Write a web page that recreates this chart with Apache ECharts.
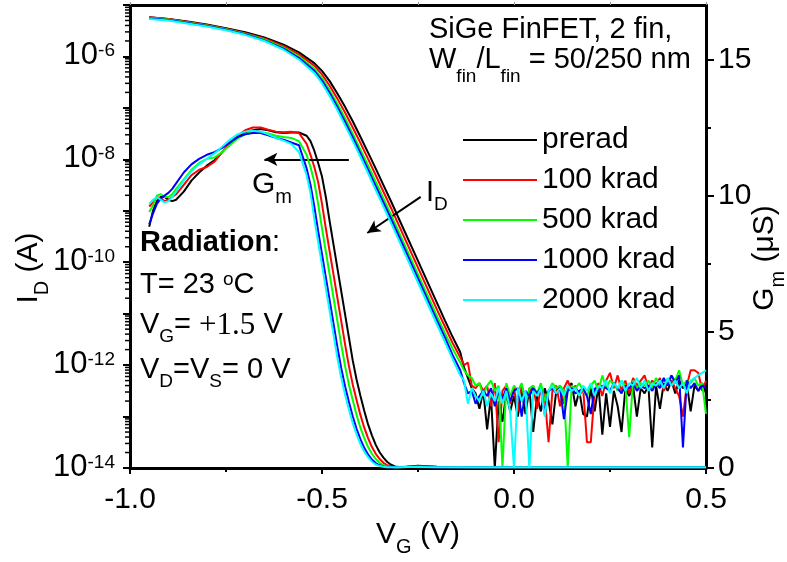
<!DOCTYPE html>
<html><head><meta charset="utf-8">
<script src="https://cdn.jsdelivr.net/npm/echarts@6/dist/echarts.min.js"></script>
<style>html,body{margin:0;padding:0;background:#fff}#c{width:787px;height:562px}</style>
</head><body><div id="c"></div>
<script>
// ---------------- data ----------------
const seriesNames = ['prerad', '100 krad', '500 krad', '1000 krad', '2000 krad'];
const seriesColors = ['#000000', '#ff0000', '#00ff00', '#0000ff', '#00ffff'];

// Gate voltage grid for I_D (V)
const vId = [-0.95,-0.90,-0.85,-0.80,-0.75,-0.70,-0.65,-0.60,-0.56,-0.52,-0.50,-0.48,-0.46,-0.44,-0.42,-0.40,-0.38,-0.36,-0.34,-0.32,-0.30,-0.28,-0.26,-0.24,-0.22,-0.20,-0.18,-0.16,-0.14,
  -0.13,-0.12,-0.11,-0.10,-0.09,-0.08,-0.07,-0.06,-0.05,-0.04,-0.03,-0.02,-0.01,0.00,0.01,0.02,0.03,0.04,0.05,0.06,0.07,0.08,0.09,0.10,
  0.11,0.12,0.13,0.14,0.15,0.16,0.17,0.18,0.19,0.20,0.21,0.22,0.23,0.24,0.25,0.26,0.27,0.28,0.29,0.30,
  0.31,0.32,0.33,0.34,0.35,0.36,0.37,0.38,0.39,0.40,0.41,0.42,0.43,0.44,0.45,0.46,0.47,0.48,0.49,0.50];

// log10(I_D / A) for each dose
const idLogPrerad = [-5.24,-5.27,-5.32,-5.38,-5.45,-5.53,-5.63,-5.77,-5.92,-6.13,-6.28,-6.48,-6.72,-6.98,-7.26,-7.56,-7.87,-8.18,-8.50,-8.82,-9.15,-9.48,-9.81,-10.14,-10.47,-10.80,-11.13,-11.45,-11.75,
  -12.05,-12.25,-12.45,-12.55,-12.85,-12.5,-13.25,-12.6,-14.0,-12.7,-13.1,-12.55,-12.9,-12.6,-13.0,-12.5,-12.95,-12.45,-13.3,-12.6,-12.9,-12.45,-12.7,-13.15,
  -12.5,-12.4,-12.75,-12.45,-12.35,-12.8,-12.5,-12.95,-13.0,-12.45,-12.9,-12.4,-13.35,-12.55,-13.2,-12.5,-12.8,-13.3,-12.45,-12.6,
  -12.4,-13.0,-12.45,-12.55,-12.4,-13.6,-12.4,-12.85,-12.35,-12.5,-12.3,-12.55,-12.3,-12.45,-12.35,-12.9,-12.4,-12.5,-12.35,-12.55];
const idLog100 = [-5.24,-5.27,-5.33,-5.39,-5.46,-5.55,-5.65,-5.80,-5.96,-6.18,-6.35,-6.57,-6.82,-7.09,-7.38,-7.68,-7.99,-8.31,-8.63,-8.95,-9.28,-9.61,-9.94,-10.27,-10.60,-10.93,-11.25,-11.57,-11.85,
  -12.0,-11.95,-12.4,-12.45,-12.35,-12.5,-12.4,-12.8,-12.35,-13.5,-12.5,-12.4,-12.75,-12.45,-12.9,-12.4,-12.7,-12.55,-12.4,-12.85,-12.45,-12.6,-13.5,-12.5,
  -12.4,-12.8,-12.45,-12.3,-12.5,-12.4,-12.6,-12.45,-13.5,-13.5,-12.5,-12.35,-12.6,-12.3,-12.15,-12.45,-12.2,-12.5,-12.3,-12.55,
  -12.25,-12.4,-12.3,-12.2,-12.45,-12.3,-12.4,-12.25,-12.5,-12.35,-12.3,-12.45,-12.6,-13.0,-12.4,-12.1,-12.1,-12.15,-12.5,-12.3];
const idLog500 = [-5.25,-5.28,-5.34,-5.40,-5.47,-5.56,-5.67,-5.83,-6.00,-6.24,-6.42,-6.66,-6.92,-7.20,-7.50,-7.81,-8.12,-8.44,-8.76,-9.08,-9.41,-9.74,-10.07,-10.40,-10.73,-11.06,-11.38,-11.68,-11.95,
  -12.1,-12.2,-12.25,-12.4,-12.35,-12.6,-12.4,-12.3,-12.5,-12.4,-14.0,-12.35,-12.6,-12.4,-12.5,-12.35,-12.75,-12.45,-12.4,-12.55,-12.35,-12.7,-12.5,-12.35,
  -12.45,-12.4,-12.5,-14.0,-12.4,-12.45,-12.35,-12.5,-12.6,-12.4,-12.3,-12.5,-12.2,-12.45,-12.3,-12.35,-12.5,-12.3,-12.4,-13.4,
  -12.3,-12.45,-12.35,-12.4,-12.3,-12.45,-12.25,-12.4,-12.3,-12.35,-12.2,-12.3,-12.1,-12.4,-12.3,-12.35,-12.25,-12.4,-12.35,-12.95];
const idLog1000 = [-5.26,-5.29,-5.35,-5.41,-5.48,-5.57,-5.69,-5.85,-6.03,-6.28,-6.47,-6.71,-6.98,-7.27,-7.57,-7.88,-8.20,-8.52,-8.84,-9.16,-9.49,-9.82,-10.15,-10.48,-10.81,-11.14,-11.46,-11.80,-12.10,
  -12.35,-12.55,-12.5,-12.75,-12.6,-12.5,-12.6,-12.45,-12.8,-12.5,-12.65,-12.45,-12.7,-12.5,-12.45,-13.0,-12.5,-12.6,-12.45,-12.55,-12.45,-12.95,-12.5,-12.45,
  -12.55,-12.45,-13.05,-12.5,-12.45,-12.55,-12.5,-12.45,-12.6,-12.95,-12.45,-12.5,-12.4,-12.45,-12.5,-12.35,-12.45,-12.55,-12.4,-12.45,
  -12.35,-12.5,-12.4,-12.45,-12.4,-12.5,-12.35,-12.45,-12.25,-12.4,-12.2,-12.35,-12.2,-13.6,-12.3,-12.45,-12.35,-12.5,-12.4,-12.45];
const idLog2000 = [-5.27,-5.30,-5.36,-5.42,-5.49,-5.58,-5.70,-5.87,-6.06,-6.32,-6.52,-6.77,-7.04,-7.34,-7.64,-7.95,-8.27,-8.60,-8.92,-9.24,-9.57,-9.90,-10.23,-10.56,-10.89,-11.22,-11.55,-11.88,-12.2,
  -12.3,-12.75,-12.45,-12.6,-12.7,-12.5,-12.8,-12.55,-12.7,-12.45,-12.75,-12.5,-12.9,-14.0,-12.45,-12.7,-12.5,-14.0,-12.5,-12.6,-12.45,-13.0,-12.5,-12.4,
  -12.55,-12.45,-12.6,-12.4,-12.5,-12.45,-12.6,-12.4,-12.5,-12.35,-12.6,-12.4,-12.45,-12.3,-12.55,-12.35,-12.45,-12.3,-12.5,-12.35,
  -12.4,-12.25,-12.45,-12.3,-12.5,-12.35,-12.4,-12.3,-12.45,-12.25,-12.4,-12.3,-12.45,-12.35,-12.55,-12.3,-12.25,-12.2,-12.15,-12.1];

// Gate voltage grid for G_m (V)
const vGm = [-0.95,-0.94,-0.93,-0.92,-0.91,-0.90,-0.89,-0.88,
  -0.86,-0.84,-0.82,-0.80,-0.78,-0.76,-0.74,-0.72,-0.70,-0.68,-0.66,-0.64,-0.62,-0.60,-0.58,-0.56,-0.54,
  -0.53,-0.52,-0.51,-0.50,-0.49,-0.48,-0.47,-0.46,-0.45,-0.44,-0.43,-0.42,-0.41,-0.40,-0.39,-0.38,-0.37,-0.36,-0.35,-0.34,-0.33,-0.32,-0.31,-0.30,
  -0.28,-0.25,-0.20,-0.10,0.00,0.10,0.20,0.30,0.40,0.50];

// G_m (uS) for each dose
const gmPrerad = [8.86,9.45,9.8,9.95,9.95,9.85,9.8,9.85,
  10.15,10.55,10.85,11.1,11.3,11.6,11.9,12.15,12.3,12.4,12.45,12.4,12.33,12.3,12.32,12.32,12.2,
  12.0,11.65,11.2,10.7,9.95,9.05,8.2,7.35,6.5,5.65,4.8,3.95,3.25,2.65,2.1,1.6,1.2,0.85,0.58,0.38,0.22,0.12,0.06,0.04,
  0.05,0.08,0.05,0.03,0.03,0.03,0.03,0.03,0.03,0.03];
const gm100 = [9.6,9.75,9.95,9.9,9.8,9.85,9.95,10.05,
  10.4,10.75,10.95,11.05,11.25,11.6,11.95,12.2,12.4,12.5,12.5,12.42,12.35,12.33,12.35,12.3,11.9,
  11.5,11.05,10.5,9.7,8.8,7.95,7.1,6.25,5.4,4.55,3.75,3.07,2.5,1.95,1.48,1.1,0.77,0.52,0.33,0.19,0.1,0.06,0.04,0.04,
  0.05,0.06,0.04,0.03,0.03,0.03,0.03,0.03,0.03,0.03];
const gm500 = [9.4,9.65,10.0,10.05,9.95,9.95,10.05,10.25,
  10.6,10.95,11.2,11.35,11.4,11.6,11.85,12.1,12.25,12.33,12.33,12.28,12.2,12.15,12.12,12.0,11.5,
  11.05,10.5,9.7,8.8,7.95,7.1,6.25,5.4,4.55,3.75,3.07,2.5,1.95,1.48,1.1,0.77,0.52,0.33,0.19,0.1,0.06,0.04,0.03,0.03,
  0.04,0.05,0.04,0.03,0.03,0.03,0.03,0.03,0.03,0.03];
const gm1000 = [8.95,9.35,9.7,9.9,10.0,10.1,10.25,10.45,
  10.85,11.15,11.35,11.5,11.6,11.75,11.95,12.15,12.25,12.3,12.3,12.22,12.12,12.05,11.95,11.85,11.0,
  10.4,9.6,8.7,7.85,7.0,6.15,5.3,4.45,3.67,3.0,2.43,1.9,1.44,1.06,0.74,0.5,0.31,0.18,0.1,0.06,0.04,0.03,0.03,0.03,
  0.04,0.04,0.03,0.03,0.03,0.03,0.03,0.03,0.03,0.03];
const gm2000 = [9.7,9.85,9.95,9.85,9.75,9.8,9.95,10.15,
  10.55,10.9,11.15,11.35,11.55,11.8,12.05,12.25,12.35,12.38,12.35,12.25,12.12,12.02,11.9,11.6,10.75,
  10.1,9.15,8.3,7.45,6.6,5.75,4.9,4.05,3.32,2.7,2.15,1.65,1.24,0.88,0.6,0.4,0.23,0.13,0.07,0.05,0.03,0.03,0.03,0.03,
  0.04,0.04,0.03,0.03,0.03,0.03,0.03,0.03,0.03,0.03];

// axis tick values
const gmMajorTicks = [0, 5, 10, 15];
const gmMinorTicks = [2.5, 7.5, 12.5];
const idDecadeExps = [-14,-13,-12,-11,-10,-9,-8,-7,-6,-5];

// annotation arrows [from, to] in data coordinates (V, A)
const gmArrow = [[-0.43, 1e-8], [-0.65, 1e-8]];
const idArrow = [[-0.243, 1.86e-9], [-0.382, 3.7e-10]];

// ---------------- chart ----------------
const F = '"Liberation Sans", Arial, sans-serif';
const FS = '"Liberation Serif", "Times New Roman", serif';
const idLogs = [idLogPrerad, idLog100, idLog500, idLog1000, idLog2000];
const gms = [gmPrerad, gm100, gm500, gm1000, gm2000];

const rich = {
  n: {fontFamily: F, fontSize: 29, lineHeight: 29, verticalAlign: 'top', color: '#000'},
  n30: {fontFamily: F, fontSize: 30, lineHeight: 30, verticalAlign: 'top', color: '#000'},
  b: {fontFamily: F, fontSize: 29, lineHeight: 29, verticalAlign: 'top', fontWeight: 'bold', color: '#000'},
  sub: {fontFamily: F, fontSize: 19, lineHeight: 19, verticalAlign: 'top', padding: [17, 0, 0, 0], color: '#000'},
  sub30: {fontFamily: F, fontSize: 20, lineHeight: 20, verticalAlign: 'top', padding: [18, 0, 0, 0], color: '#000'},
  subfin: {fontFamily: F, fontSize: 19, lineHeight: 19, verticalAlign: 'top', padding: [22, 0, 0, 0], color: '#000'},
  sup: {fontFamily: F, fontSize: 19, lineHeight: 19, verticalAlign: 'top', color: '#000'},
  serif: {fontFamily: FS, fontSize: 31, lineHeight: 29, verticalAlign: 'top', color: '#000'}
};

const minorLogTicks = [];
idDecadeExps.slice(0, -1).forEach(e => { for (let k = 2; k <= 9; k++) minorLogTicks.push([-1.0, k * Math.pow(10, e)]); });

const series = [];
seriesNames.forEach((name, i) => {
  const s = {
    name, type: 'line', xAxisIndex: 0, yAxisIndex: 0, symbol: 'none', showSymbol: false,
    lineStyle: {color: seriesColors[i], width: 2}, itemStyle: {color: seriesColors[i]},
    data: vId.map((v, j) => [v, Math.pow(10, idLogs[i][j])]), z: 3 + i
  };
  if (i === 0) {
    s.markLine = {
      silent: true, symbol: ['none', 'arrow'], symbolSize: [10, 13], animation: false,
      lineStyle: {color: '#000', width: 2, type: 'solid'}, label: {show: false},
      emphasis: {disabled: true},
      data: [
        [{coord: gmArrow[0]}, {coord: gmArrow[1]}],
        [{coord: idArrow[0]}, {coord: idArrow[1]}]
      ]
    };
  }
  series.push(s);
});
seriesNames.forEach((name, i) => {
  series.push({
    name, type: 'line', xAxisIndex: 0, yAxisIndex: 1, symbol: 'none', showSymbol: false,
    lineStyle: {color: seriesColors[i], width: 2}, itemStyle: {color: seriesColors[i]},
    data: vGm.map((v, j) => [v, gms[i][j]]), z: 3 + i
  });
});
series.push({
  type: 'custom', name: 'minorLogTicks', xAxisIndex: 0, yAxisIndex: 0, clip: false, silent: true, z: 10,
  renderItem: (params, api) => {
    const c = api.coord([api.value(0), api.value(1)]);
    return {type: 'line', shape: {x1: c[0] - 5, y1: c[1], x2: c[0] - 1, y2: c[1]}, style: {stroke: '#000', lineWidth: 1.5}};
  },
  data: minorLogTicks
});

const chart = echarts.init(document.getElementById('c'), null, {renderer: 'canvas'});
chart.setOption({
  animation: false,
  backgroundColor: '#fff',
  grid: {left: 130, right: 81, top: 5, bottom: 94, containLabel: false, outerBoundsMode: 'none'},
  legend: {
    data: seriesNames.map((n, i) => ({name: n, icon: 'rect', itemStyle: {color: seriesColors[i], borderWidth: 0}})),
    orient: 'vertical', left: 463, top: 125, padding: 0,
    itemWidth: 74, itemHeight: 2, itemGap: 10,
    textStyle: {fontFamily: F, fontSize: 30, lineHeight: 30, color: '#000'},
    selectedMode: false
  },
  xAxis: [{
    type: 'value', min: -1, max: 0.5, interval: 0.5, position: 'bottom',
    axisLine: {show: true, onZero: false, lineStyle: {color: '#000', width: 3}},
    axisTick: {show: true, length: 6, lineStyle: {color: '#000', width: 2}},
    minorTick: {show: true, splitNumber: 2, length: 4, lineStyle: {color: '#000', width: 2}},
    axisLabel: {fontFamily: F, fontSize: 30, color: '#000', margin: 17, formatter: v => v.toFixed(1)},
    splitLine: {show: false},
    name: '{n|V}{s|G}{n| (V)}', nameLocation: 'middle', nameGap: 47,
    nameTextStyle: {rich: {
      n: {fontFamily: F, fontSize: 30, lineHeight: 30, verticalAlign: 'top', color: '#000'},
      s: {fontFamily: F, fontSize: 20, lineHeight: 20, verticalAlign: 'top', padding: [18, 0, 0, 0], color: '#000'}
    }}
  }, {
    type: 'value', min: -1, max: 0.5, interval: 0.25, position: 'top',
    axisLine: {show: true, onZero: false, lineStyle: {color: '#000', width: 3}},
    axisTick: {show: true, length: 3, lineStyle: {color: '#999', width: 1}},
    axisLabel: {show: false}, splitLine: {show: false}
  }],
  yAxis: [{
    type: 'log', logBase: 10, min: 1e-14, max: 1e-5, splitNumber: 9, position: 'left',
    axisLine: {show: true, onZero: false, lineStyle: {color: '#000', width: 3}},
    axisTick: {show: true, length: 7, lineStyle: {color: '#000', width: 2}},
    axisLabel: {
      margin: 15,
      formatter: v => {
        const e = Math.round(Math.log10(v));
        if (e % 2 !== 0 || e > -6) return '';
        return '{b|10}{s|' + e + '}';
      },
      rich: {
        b: {fontFamily: F, fontSize: 31, lineHeight: 30, verticalAlign: 'bottom', color: '#000'},
        s: {fontFamily: F, fontSize: 19, lineHeight: 19, verticalAlign: 'top', padding: [0, 0, 14, 0], color: '#000'}
      }
    },
    splitLine: {show: false}
  }, {
    type: 'value', min: 0, max: 17, interval: 5, position: 'right',
    axisLine: {show: true, onZero: false, lineStyle: {color: '#000', width: 3}},
    axisTick: {show: true, length: 8, lineStyle: {color: '#000', width: 2}, customValues: gmMajorTicks},
    axisLabel: {fontFamily: F, fontSize: 30, color: '#000', margin: 12, customValues: gmMajorTicks,
      formatter: v => (v % 5 === 0 ? String(v) : '')},
    splitLine: {show: false}
  }, {
    type: 'value', min: 0, max: 17, interval: 2.5, position: 'right',
    axisLine: {show: false, onZero: false},
    axisTick: {show: true, length: 5, lineStyle: {color: '#000', width: 2}, customValues: gmMinorTicks},
    axisLabel: {show: false}, splitLine: {show: false}
  }],
  graphic: [
    {type: 'text', x: 429, y: 15.5, style: {text: '{n|SiGe FinFET, 2 fin,}', rich, align: 'left', verticalAlign: 'top'}},
    {type: 'text', x: 429, y: 45.5, style: {text: '{n|W}{subfin|fin}{n|/L}{subfin|fin}{n| = 50/250 nm}', rich, align: 'left', verticalAlign: 'top'}},
    {type: 'text', x: 252, y: 169.5, style: {text: '{n30|G}{sub30|m}', rich, align: 'left', verticalAlign: 'top'}},
    {type: 'text', x: 426, y: 178.5, style: {text: '{n|I}{sub|D}', rich, align: 'left', verticalAlign: 'top'}},
    {type: 'text', x: 140, y: 228.5, style: {text: '{b|Radiation}{n|:}', rich, align: 'left', verticalAlign: 'top'}},
    {type: 'text', x: 140, y: 270.5, style: {text: '{n|T= 23 }{sup|o}{n|C}', rich, align: 'left', verticalAlign: 'top'}},
    {type: 'text', x: 140, y: 310.5, style: {text: '{n|V}{sub|G}{n|= }{serif|+1.5}{n| V}', rich, align: 'left', verticalAlign: 'top'}},
    {type: 'text', x: 140, y: 355.5, style: {text: '{n|V}{sub|D}{n|=V}{sub|S}{n|= 0 V}', rich, align: 'left', verticalAlign: 'top'}},
    {type: 'text', x: 29, y: 268, rotation: Math.PI / 2, style: {text: '{n30|I}{sub30|D}{n30| (A)}', rich, align: 'center', verticalAlign: 'middle'}},
    {type: 'text', x: 765, y: 258, rotation: Math.PI / 2, style: {text: '{n30|G}{sub30|m}{n30| (μS)}', rich, align: 'center', verticalAlign: 'middle'}}
  ],
  series
});
</script>
</body></html>
